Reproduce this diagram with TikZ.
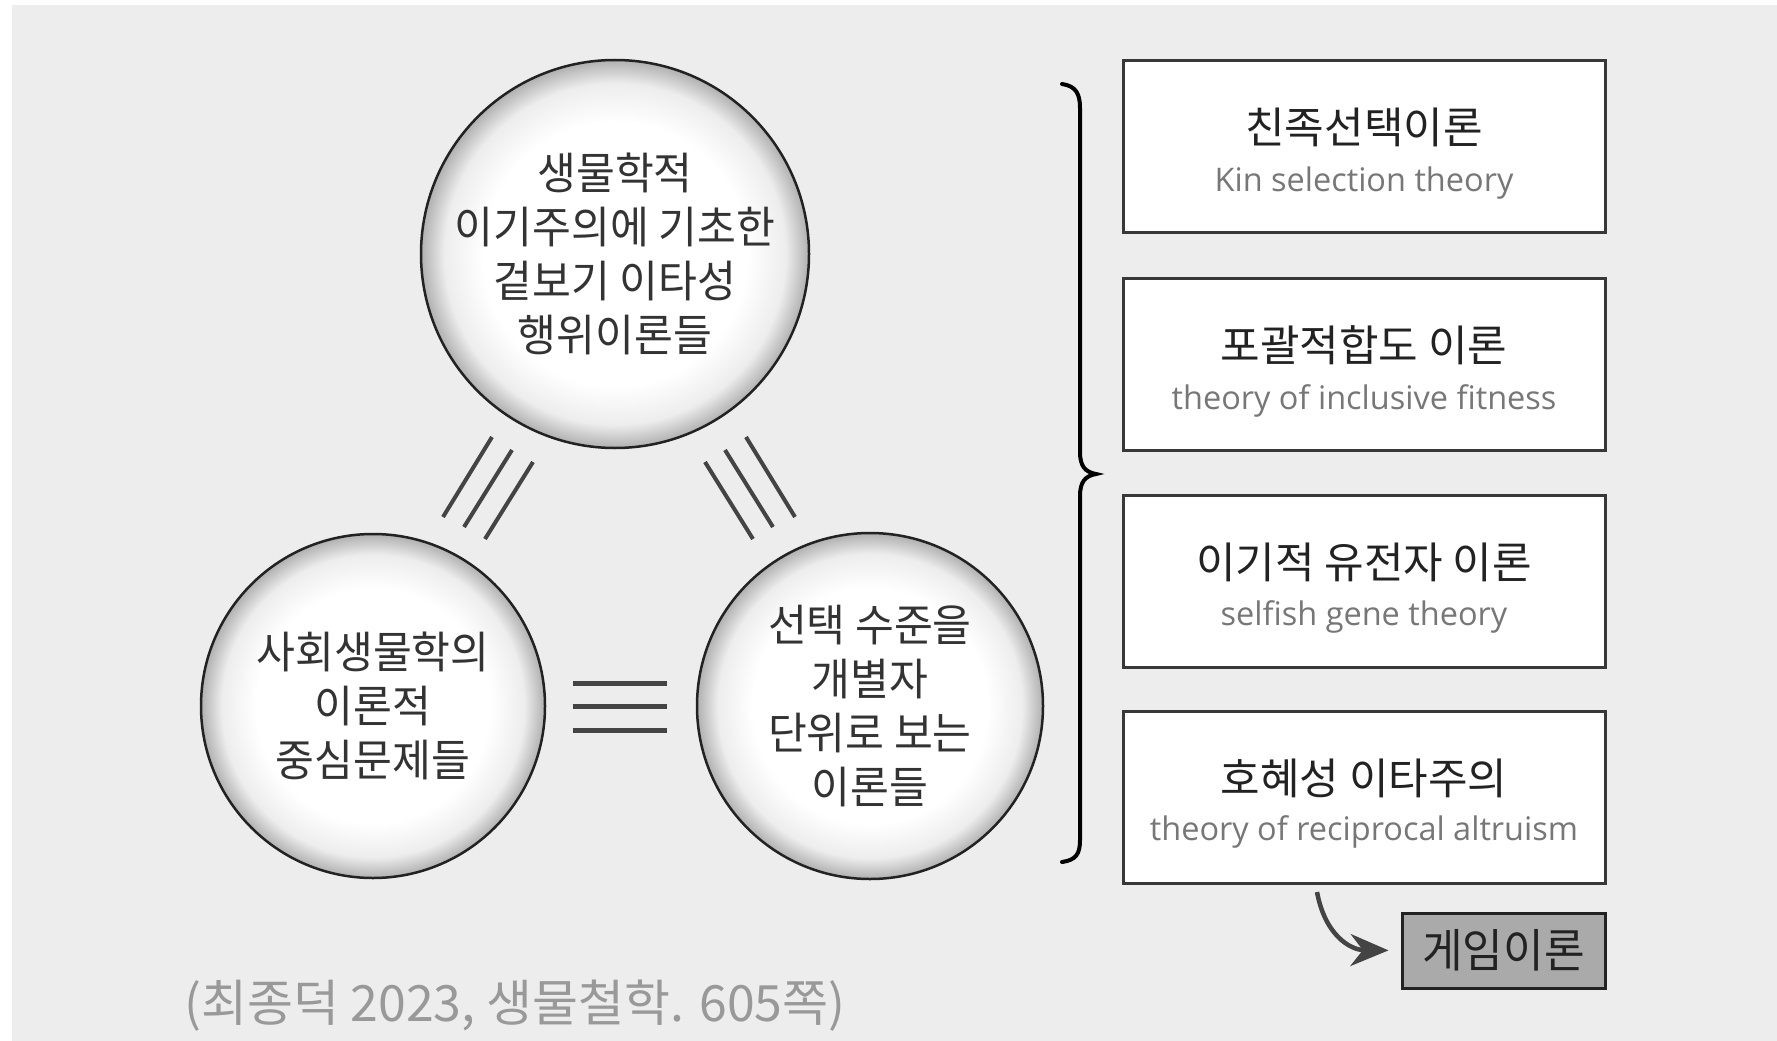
\documentclass[tikz,border=0pt]{standalone}
\usepackage{fontspec}
\usetikzlibrary{arrows.meta}
\newfontfamily\kr{Noto Sans CJK KR}
\newfontfamily\krn[FakeStretch=0.96]{Noto Sans CJK KR}
\newfontfamily\en{Open Sans}
\definecolor{bg}{HTML}{EDEDED}
\definecolor{shA}{HTML}{EDEDED}
\definecolor{shB}{HTML}{B0B0B0}
\definecolor{gamefill}{HTML}{AAAAAA}
\definecolor{ink}{HTML}{222222}
\definecolor{entext}{HTML}{777777}
\definecolor{linegray}{HTML}{444444}
\pgfdeclareradialshading{ball}{\pgfpoint{0bp}{0bp}}{color(0bp)=(white); color(17bp)=(white); color(22bp)=(shA); color(25bp)=(shB); color(50bp)=(shB)}
\tikzset{
  ballnode/.style={circle, draw=ink, line width=2.5pt, shading=ball, inner sep=0pt, align=center,
    font=\krn\fontsize{44}{54}\selectfont, text=black!80},
  tbox/.style={draw=ink!90, fill=white, line width=3pt, minimum width=482pt, minimum height=172pt, inner sep=0pt},
  kt/.style={font=\kr\fontsize{43}{43}\selectfont, text=ink, inner sep=0pt},
  et/.style={font=\en\fontsize{32.5}{32.5}\selectfont, text=entext, inner sep=0pt},
  eqline/.style={line width=4pt, draw=linegray},
}
\begin{document}
\begin{tikzpicture}[x=1pt,y=-1pt]
\fill[white] (0,0) rectangle (1777,1041);
\fill[bg] (12,5) rectangle (1777,1041);
\useasboundingbox (0,0) rectangle (1777,1041);

% circles
\node[ballnode, minimum size=388pt] (top) at (615,254) {생물학적\\이기주의에 기초한\\겉보기 이타성\\행위이론들};
\node[ballnode, minimum size=344pt] (left) at (373,706) {사회생물학의\\이론적\\중심문제들};
\node[ballnode, minimum size=346pt] (right) at (870,706) {선택 수준을\\개별자\\단위로 보는\\이론들};

% equivalence marks
\draw[eqline] (492,437) -- (443,517);
\draw[eqline] (512,450) -- (464,527);
\draw[eqline] (533,462) -- (485,539);
\draw[eqline] (705,462) -- (753,539);
\draw[eqline] (725,450) -- (773,527);
\draw[eqline] (746,437) -- (795,517);
\draw[eqline, line width=5pt] (573,683) -- (667,683);
\draw[eqline, line width=5pt] (573,706) -- (667,706);
\draw[eqline, line width=5pt] (573,730) -- (667,730);

% brace
\draw[line width=4pt, line cap=round] (1062,84) .. controls (1076,86) and (1080,94) .. (1080,108) -- (1080,452)
  .. controls (1080,466) and (1085,472) .. (1096,474) .. controls (1085,476) and (1080,482) .. (1080,496)
  -- (1080,840) .. controls (1080,854) and (1076,860) .. (1062,862);

% boxes
\node[tbox] (b1) at (1364,146.5) {};
\node[kt] (b1k) at (1364,127) {친족선택이론};
\node[et] (b1e) at (1364,183) {Kin selection theory};

\node[tbox] (b2) at (1364,364) {};
\node[kt] (b2k) at (1364,345) {포괄적합도 이론};
\node[et] (b2e) at (1364,401) {theory of inclusive fitness};

\node[tbox] (b3) at (1364,581) {};
\node[kt] (b3k) at (1364,562) {이기적 유전자 이론};
\node[et] (b3e) at (1364,617) {selfish gene theory};

\node[tbox] (b4) at (1364,797) {};
\node[kt] (b4k) at (1364,778) {호혜성 이타주의};
\node[et] (b4e) at (1364,832) {theory of reciprocal altruism};

% game theory
\node[draw=ink, fill=gamefill, line width=3pt, minimum width=203pt, minimum height=75pt, inner sep=0pt,
  font=\krn\fontsize{46}{46}\selectfont, text=ink] (game) at (1503.5,950.5) {게임이론};
\coordinate (as) at (1317,892);
\draw[line width=4.5pt, draw=linegray, -{Stealth[length=38pt,width=32pt]}, shorten >=12pt]
  (as) .. controls (1325,935) and (1350,950) .. (game.west);

% citation
\node[font=\kr\fontsize{50}{50}\selectfont, text=black!40, inner sep=0pt] (cite) at (515,1006) {(최종덕 2023, 생물철학. 605쪽)};
\end{tikzpicture}
\end{document}
